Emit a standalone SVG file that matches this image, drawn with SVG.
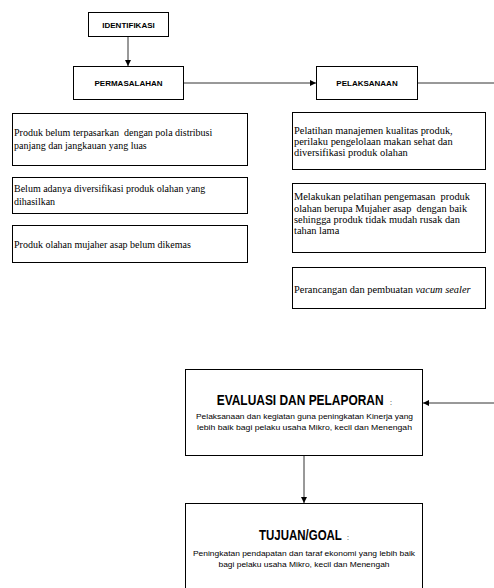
<svg xmlns="http://www.w3.org/2000/svg" width="494" height="588" viewBox="0 0 494 588">
<style>
.box{fill:#fff;stroke:#000;stroke-width:1}
.hd{font-family:"Liberation Sans",Arial,sans-serif;font-weight:bold;font-size:8px;fill:#000;text-anchor:middle}
.tx{font-family:"Liberation Serif","Times New Roman",serif;font-size:10px;fill:#000}
.tr{font-family:"Liberation Serif","Times New Roman",serif;font-size:10.4px;fill:#000}
.tt{font-family:"Liberation Sans",Arial,sans-serif;font-weight:bold;fill:#000}
.co{font-family:"Liberation Sans",Arial,sans-serif;font-size:7px;fill:#000}
.st{font-family:"Liberation Sans Narrow","Liberation Sans",Arial,sans-serif;font-size:7.5px;fill:#000;text-anchor:middle}
.cn{fill:none;stroke:#333;stroke-width:1}
</style>
<defs>
<marker id="ah" viewBox="0 0 6 6" refX="6" refY="3" markerWidth="6" markerHeight="6" markerUnits="userSpaceOnUse" orient="auto">
<path d="M0,0 L6,3 L0,6 Z" fill="#000"/>
</marker>
</defs>
<rect width="494" height="588" fill="#fff"/>
<g id="connectors">
<line class="cn" x1="128" y1="36" x2="128" y2="66" marker-end="url(#ah)"/>
<line class="cn" x1="184" y1="83" x2="316" y2="83" marker-end="url(#ah)"/>
<line class="cn" x1="418" y1="83" x2="494" y2="83"/>
<line class="cn" x1="494" y1="403" x2="423" y2="403" marker-end="url(#ah)"/>
<line class="cn" x1="304" y1="456" x2="304" y2="503" marker-end="url(#ah)"/>
</g>
<g id="identifikasi">
<rect class="box" x="88.5" y="12.5" width="80" height="24"/>
<text class="hd" x="128.5" y="28">IDENTIFIKASI</text>
</g>
<g id="permasalahan">
<rect class="box" x="73.5" y="66.5" width="110" height="33"/>
<text class="hd" x="128.5" y="86">PERMASALAHAN</text>
</g>
<g id="pelaksanaan">
<rect class="box" x="316.5" y="66.5" width="101" height="33"/>
<text class="hd" x="367" y="86">PELAKSANAAN</text>
</g>
<g id="masalah1">
<rect class="box" x="12.5" y="113.5" width="235" height="52"/>
<text class="tx" x="14" y="136">Produk belum terpasarkan&#160; dengan pola distribusi</text>
<text class="tx" x="14" y="149">panjang dan jangkauan yang luas</text>
</g>
<g id="masalah2">
<rect class="box" x="12.5" y="177.5" width="235" height="36"/>
<text class="tx" x="14" y="192">Belum adanya diversifikasi produk olahan yang</text>
<text class="tx" x="14" y="205">dihasilkan</text>
</g>
<g id="masalah3">
<rect class="box" x="12.5" y="225.5" width="235" height="37"/>
<text class="tx" x="14" y="248">Produk olahan mujaher asap belum dikemas</text>
</g>
<g id="pelaksanaan1">
<rect class="box" x="292.5" y="112.5" width="193" height="57"/>
<text class="tr" x="294" y="133.5">Pelatihan manajemen kualitas produk,</text>
<text class="tr" x="294" y="144.5">perilaku pengelolaan makan sehat dan</text>
<text class="tr" x="294" y="155.5">diversifikasi produk olahan</text>
</g>
<g id="pelaksanaan2">
<rect class="box" x="292.5" y="183.5" width="193" height="69"/>
<text class="tr" x="294" y="200">Melakukan pelatihan pengemasan&#160; produk</text>
<text class="tr" x="294" y="211.5">olahan berupa Mujaher asap&#160; dengan baik</text>
<text class="tr" x="294" y="222.5">sehingga produk tidak mudah rusak dan</text>
<text class="tr" x="294" y="233.5">tahan lama</text>
</g>
<g id="pelaksanaan3">
<rect class="box" x="292.5" y="267.5" width="193" height="41"/>
<text class="tr" x="294" y="292.5">Perancangan dan pembuatan <tspan font-style="italic">vacum sealer</tspan></text>
</g>
<g id="evaluasi">
<rect class="box" x="185.5" y="369.5" width="237" height="86"/>
<text class="tt" font-size="15.4" transform="translate(216.7,405) scale(0.776,1)">EVALUASI DAN PELAPORAN</text>
<text class="co" x="390" y="405">:</text>
<text class="st" x="304.5" y="418.5" textLength="217" lengthAdjust="spacingAndGlyphs">Pelaksanaan dan kegiatan guna peningkatan Kinerja yang</text>
<text class="st" x="304.5" y="429.5" textLength="215" lengthAdjust="spacingAndGlyphs">lebih baik bagi pelaku usaha Mikro, kecil dan Menengah</text>
</g>
<g id="tujuan">
<rect class="box" x="185.5" y="503.5" width="237" height="100"/>
<text class="tt" font-size="14" transform="translate(259,540) scale(0.82,1)">TUJUAN/GOAL</text>
<text class="co" x="347" y="540">:</text>
<text class="st" x="304" y="555.5" textLength="222" lengthAdjust="spacingAndGlyphs">Peningkatan pendapatan dan taraf ekonomi yang lebih baik</text>
<text class="st" x="304" y="566.5" textLength="171" lengthAdjust="spacingAndGlyphs">bagi pelaku usaha Mikro, kecil dan Menengah</text>
</g>
</svg>
